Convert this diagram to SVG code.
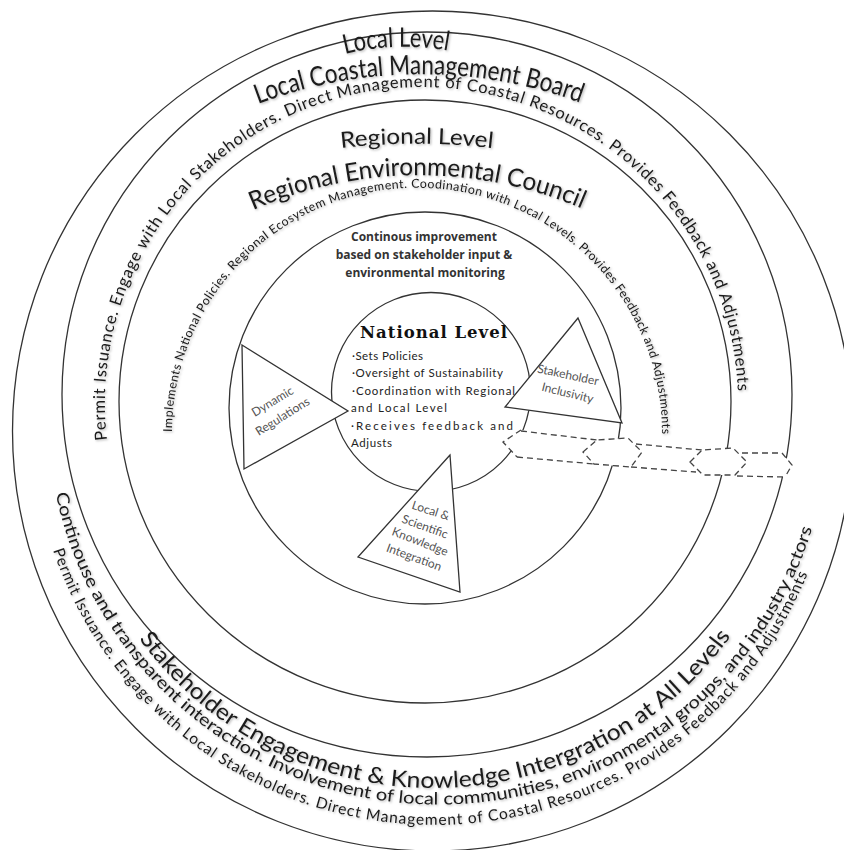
<svg xmlns="http://www.w3.org/2000/svg" width="844" height="850" viewBox="0 0 844 850">
<defs>
<style>
.ring{fill:none;stroke:#333;stroke-width:1.3}
.tri{fill:#fff;stroke:#333;stroke-width:1.3}
.t{font-family:Lato,"Open Sans",sans-serif;fill:#1a1a1a;filter:url(#sh)}
.dash{fill:none;stroke:#444;stroke-width:1.3;stroke-dasharray:6 4}
.lbl{font-family:Lato,"Open Sans",sans-serif;font-size:12px;fill:#555;text-anchor:middle}
.bul{font-family:Lato,"Open Sans",sans-serif;font-size:11.5px;fill:#222}
.ci{font-family:"Open Sans",sans-serif;font-weight:bold;font-size:12px;fill:#333;text-anchor:middle}
</style>
<filter id="sh" x="-5%" y="-5%" width="110%" height="110%"><feDropShadow dx="1.2" dy="1.2" stdDeviation="1" flood-color="#000" flood-opacity="0.28"/></filter>
<path id="pLL" d="M345,54 Q400,40 460,53"/>
<path id="pLCMB" d="M258,104 A460,460 0 0 1 598.7,110"/>
<path id="pLoc" d="M107,439.9 A316.6,316.6 0 1 1 738.1,406.8"/>
<path id="pRL" d="M341,148 Q418,139 500,149"/>
<path id="pREC" d="M253,210 A414,414 0 0 1 599,216.3"/>
<path id="pReg" d="M172,432 A245,245 0 1 1 661.7,444.8"/>
<path id="pB1" d="M139,638.7 A366,366 0 0 0 740.9,621.3"/>
<path id="pB2" d="M55.7,493.6 A391,391 0 0 0 817.8,508.2"/>
<path id="pB3" d="M53.1,550.2 A402.4,402.4 0 0 0 815.2,553.5"/>
</defs>
<rect width="844" height="850" fill="#fff"/>

<g id="rings">
<circle class="ring" cx="432.5" cy="431" r="420"/>
<ellipse class="ring" cx="427" cy="394.5" rx="365" ry="362.5"/>
<ellipse class="ring" cx="425" cy="401.5" rx="306" ry="301.5"/>
<circle class="ring" cx="425" cy="408" r="196"/>
<circle class="ring" cx="431" cy="392" r="99.5"/>
</g>

<g id="local-level">
<text class="t" font-size="27"><textPath href="#pLL" textLength="104" lengthAdjust="spacingAndGlyphs">Local Level</textPath></text>
<text class="t" font-size="27"><textPath href="#pLCMB" textLength="329" lengthAdjust="spacingAndGlyphs">Local Coastal Management Board</textPath></text>
<text class="t" font-size="16.5"><textPath href="#pLoc" textLength="1018">Permit Issuance. Engage with Local Stakeholders. Direct Management of Coastal Resources. Provides Feedback and Adjustments</textPath></text>
</g>

<g id="regional-level">
<text class="t" font-size="22"><textPath href="#pRL" textLength="152" lengthAdjust="spacingAndGlyphs">Regional Level</textPath></text>
<text class="t" font-size="25"><textPath href="#pREC" textLength="338" lengthAdjust="spacingAndGlyphs">Regional Environmental Council</textPath></text>
<text class="t" font-size="12.3"><textPath href="#pReg" textLength="770">Implements National Policies. Regional Ecosystem Management. Coodination with Local Levels. Provides Feedback and Adjustments</textPath></text>
</g>

<g id="continuous-improvement">
<text class="ci" x="424" y="241">Continous improvement</text>
<text class="ci" x="424" y="259">based on stakeholder input &amp;</text>
<text class="ci" x="425" y="277">environmental monitoring</text>
</g>

<g id="national-level">
<text x="360" y="338" font-family="'DejaVu Serif',serif" font-weight="bold" font-size="16.5" fill="#111" textLength="147">National Level</text>
<text class="bul" x="352" y="360" textLength="71">·Sets Policies</text>
<text class="bul" x="352" y="377" textLength="151">·Oversight of Sustainability</text>
<text class="bul" x="352" y="395" textLength="163">·Coordination with Regional</text>
<text class="bul" x="351" y="412" textLength="96">and Local Level</text>
<text class="bul" x="351" y="430" font-size="14" textLength="162">·Receives feedback and</text>
<text class="bul" x="351" y="447" font-size="13.5" textLength="41">Adjusts</text>
</g>

<g id="dynamic-regulations">
<polygon class="tri" points="242,345 348,411 244,469"/>
<text class="lbl" transform="translate(272.5,401.5) rotate(-31)" y="4">Dynamic</text>
<text class="lbl" transform="translate(282.5,416.5) rotate(-32)" y="4">Regulations</text>
</g>

<g id="stakeholder-inclusivity">
<polygon class="tri" points="578,318 505,407 622,423"/>
<text class="lbl" transform="translate(568,375) rotate(12)" y="4">Stakeholder</text>
<text class="lbl" transform="translate(567.5,393) rotate(14)" y="4">Inclusivity</text>
</g>

<g id="knowledge-integration">
<polygon class="tri" points="450,455 358,557 460,592"/>
<text class="lbl" transform="translate(430.7,510.7) rotate(18)" y="4">Local &amp;</text>
<text class="lbl" transform="translate(425,526.7) rotate(20)" y="4">Scientific</text>
<text class="lbl" transform="translate(420,541.7) rotate(21)" y="4">Knowledge</text>
<text class="lbl" transform="translate(414,557.3) rotate(20)" y="4">Integration</text>
</g>

<g id="connectors">
<polygon fill="#fff" points="503,442 521,430 597,440 628,438 636,444 702,450 733,448 742,452 782,453 792,465 785,477 740,477 735,475 703,475 695,472 631,467 594,464 517,457"/>
<path class="dash" d="M521,430 L503,442 L517,457"/>
<path class="dash" d="M521,431 L597,440"/>
<path class="dash" d="M517,457 L594,464"/>
<path class="dash" d="M583,452 L597,440 L628,438 L642,452 L631,467 L594,464 Z"/>
<path class="dash" d="M636,444 L702,450"/>
<path class="dash" d="M631,467 L696,472"/>
<path class="dash" d="M690,462 L702,450 L733,448 L747,462 L735,475 L703,475 Z"/>
<path class="dash" d="M742,453 L782,453"/>
<path class="dash" d="M737,476 L785,477"/>
<path class="dash" d="M782,453 L792,465 L785,477"/>
</g>

<g id="stakeholder-engagement">
<text class="t" font-size="22.5"><textPath href="#pB1" textLength="689" lengthAdjust="spacingAndGlyphs">Stakeholder Engagement &amp; Knowledge Intergration at All Levels</textPath></text>
<text class="t" font-size="17"><textPath href="#pB2" textLength="1031" lengthAdjust="spacingAndGlyphs">Continouse and transparent interaction. Involvement of local communities, environmental groups, and industry actors</textPath></text>
<text class="t" font-size="15.5"><textPath href="#pB3" textLength="979">Permit Issuance. Engage with Local Stakeholders. Direct Management of Coastal Resources. Provides Feedback and Adjustments</textPath></text>
</g>
</svg>
